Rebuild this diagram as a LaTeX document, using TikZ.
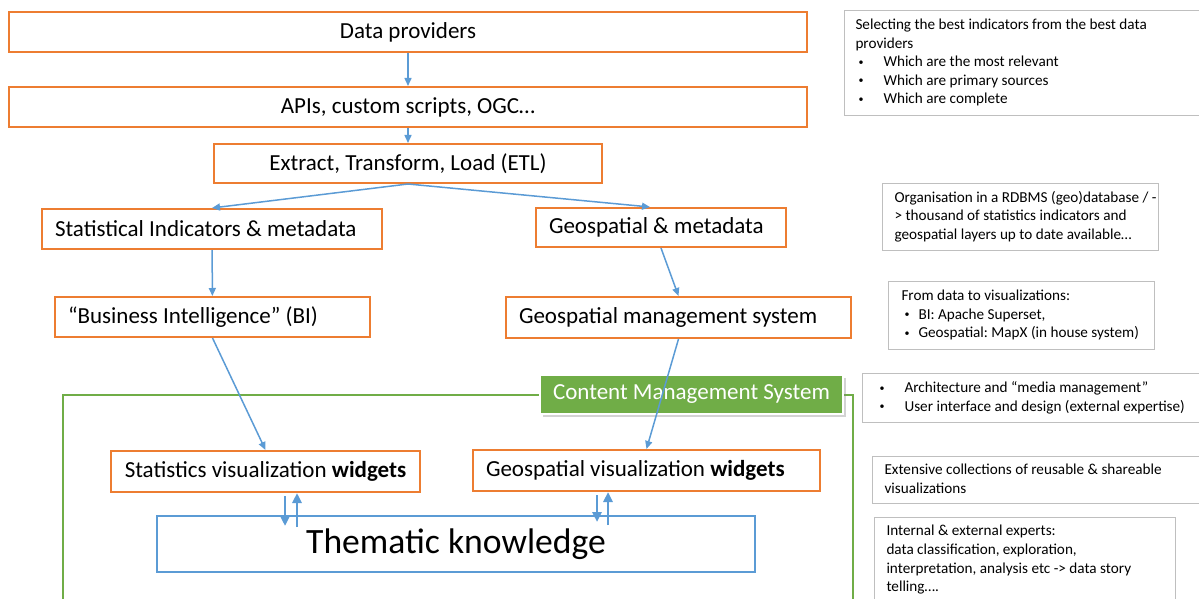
\documentclass[tikz,border=0pt]{standalone}
\usepackage{fontspec}
\setmainfont{Carlito}
\usepackage{tikz}
\usetikzlibrary{calc,arrows.meta,shadows}
\definecolor{boxorange}{HTML}{ED7D31}
\definecolor{flowblue}{HTML}{5B9BD5}
\definecolor{cmsgreen}{HTML}{70AD47}
\definecolor{notegray}{HTML}{BFBFBF}
\frenchspacing
\newcommand{\notelines}[1]{\begin{tabular}{@{}l@{}}#1\end{tabular}}
\newcommand{\bul}[1][14pt]{\makebox[#1][l]{\hspace{1.5pt}\raisebox{.7pt}{\fontsize{5}{6}\selectfont\textbullet}}}

\begin{document}
\begin{tikzpicture}[x=0.5pt,y=-0.5pt,
  every node/.style={inner sep=0pt,font=\fontsize{11.5}{14}\selectfont},
  obox/.style={draw=boxorange,line width=1pt,fill=white},
  lbox/.style={obox,align=flush left,inner xsep=6.5pt},
  note/.style={draw=notegray,line width=.5pt,anchor=north west,align=flush left,
    font=\fontsize{7.6}{9.3}\selectfont},
  flow/.style={draw=flowblue,line width=.75pt,-{Triangle[length=4pt,width=3.5pt]}},
  swap/.style={draw=flowblue,line width=1.3pt,-{Triangle[length=5pt,width=4.5pt]}}]
\useasboundingbox (0,0) rectangle (1199,599);

\node[obox,minimum width=399pt,minimum height=20pt] (dp) at (408,32) {Data providers};
\node[obox,minimum width=399pt,minimum height=20pt] (api) at (408,107) {APIs, custom scripts, OGC…};
\node[obox,minimum width=194pt,minimum height=19.5pt] (etl) at (408,163.5) {Extract, Transform, Load (ETL)};
\node[lbox,text width=157pt,minimum height=20pt] (sind) at (212,229) {Statistical Indicators \& metadata};
\node[lbox,text width=112pt,minimum height=19.5pt] (gmeta) at (661,227.5) {Geospatial \& metadata};
\node[lbox,text width=144.5pt,minimum height=20pt] (bi) at (212.5,317) {“Business Intelligence” (BI)};
\node[lbox,text width=159.5pt,minimum height=20.5pt] (gms) at (678.5,317.5) {Geospatial management system};

% cms area
\draw[draw=cmsgreen,line width=.75pt] (63,395) rectangle (853,620);
\node[fill=cmsgreen,draw=white,line width=1pt,text=white,minimum width=151.5pt,minimum height=19.5pt,
  drop shadow={shadow xshift=1.5pt,shadow yshift=-1.5pt,opacity=.35}] (cms) at (691.5,394.5) {Content Management System};

\node[obox,minimum width=154.5pt,minimum height=20.5pt] (sw) at (265.5,471.5) {Statistics visualization \textbf{widgets}};
\node[lbox,text width=160.5pt,minimum height=20.5pt] (gw) at (646.5,470.5) {Geospatial visualization \textbf{widgets}};
\node[draw=flowblue,line width=1pt,minimum width=299pt,minimum height=28pt,
  font=\fontsize{17.8}{21}\selectfont] (tk) at (456,544) {Thematic knowledge};

\draw[flow] (dp) -- (api);
\draw[flow] (api) -- (etl);
\draw[flow] (etl.south) -- (sind.north);
\draw[flow] (etl.south) -- ([xshift=-5.5pt]gmeta.north);
\draw[flow] (sind) -- (bi);
\draw[flow] (gmeta.south) -- (gms.north);
\draw[flow] (bi.south) -- (sw.north);
\draw[flow] (gms.south) -- (gw.north);

\draw[swap] ([xshift=9.75pt,yshift=-1.5pt]sw.south) -- ([xshift=9.75pt,yshift=-5.5pt]sw.south |- tk.north);
\draw[swap] ([xshift=15.75pt,yshift=-6pt]sw.south |- tk.north) -- ([xshift=15.75pt]sw.south);
\draw[swap] ([xshift=-24.75pt,yshift=-1.5pt]gw.south) -- ([xshift=-24.75pt,yshift=-3.5pt]gw.south |- tk.north);
\draw[swap] ([xshift=-19.25pt,yshift=-5pt]gw.south |- tk.north) -- ([xshift=-19.25pt]gw.south);

% notes on the right
\node[note,inner xsep=5.5pt,text width=167pt,minimum height=52.5pt] (n1) at (844,10)
  {\notelines{Selecting the best indicators from the best data\\providers\\\bul Which are the most relevant\\\bul Which are primary sources\\\bul Which are complete}};
\node[note,inner xsep=6pt,text width=126pt,minimum height=33.5pt] (n2) at (882,183)
  {\notelines{Organisation in a RDBMS (geo)database / -\\> thousand of statistics indicators and\\geospatial layers up to date available…}};
\node[note,inner xsep=6.5pt,text width=120pt,minimum height=34pt] (n3) at (888,281)
  {\notelines{From data to visualizations:\\\bul[8.5pt]BI: Apache Superset,\\\bul[8.5pt]Geospatial: MapX (in house system)}};
\node[note,inner xsep=7pt,text width=155pt,minimum height=24.5pt] (n4) at (862,373)
  {\notelines{\bul Architecture and “media management”\\\bul User interface and design (external expertise)}};
\node[note,inner xsep=6pt,text width=152pt,minimum height=23.5pt] (n5) at (872,456)
  {\notelines{Extensive collections of reusable \& shareable\\visualizations}};
\node[note,inner xsep=6pt,text width=138.5pt,minimum height=42.5pt] (n6) at (874,517)
  {\notelines{Internal \& external experts:\\data classification, exploration,\\interpretation, analysis etc -> data story\\telling….}};

\end{tikzpicture}
\end{document}
